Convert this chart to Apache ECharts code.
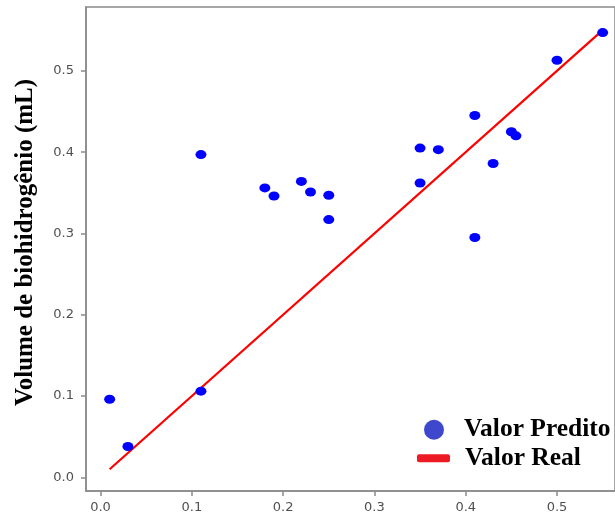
<!DOCTYPE html>
<html>
<head>
<meta charset="utf-8">
<script src="https://cdn.jsdelivr.net/npm/echarts@6/dist/echarts.min.js"></script>
<style>html,body{margin:0;padding:0;background:#fff}#c{width:615px;height:515px}</style>
</head>
<body>
<div id="c"></div>
<script>
// Real (x) and predicted (y) values
var realValues = [0.01, 0.03, 0.11, 0.11, 0.18, 0.19, 0.22, 0.23, 0.25, 0.25, 0.35, 0.37, 0.35, 0.41, 0.41, 0.43, 0.45, 0.455, 0.50, 0.55];
var predictedValues = [0.096, 0.038, 0.106, 0.397, 0.356, 0.346, 0.364, 0.351, 0.347, 0.317, 0.405, 0.403, 0.362, 0.445, 0.295, 0.386, 0.425, 0.420, 0.513, 0.547];
var xTicks = [0.0, 0.1, 0.2, 0.3, 0.4, 0.5];
var yTicks = [0.0, 0.1, 0.2, 0.3, 0.4, 0.5];
var seriesNames = ['Valor Predito', 'Valor Real'];
var yAxisTitle = 'Volume de biohidrogênio (mL)';

var scatterData = realValues.map(function (v, i) { return [v, predictedValues[i]]; });
var sortedReal = realValues.slice().sort(function (a, b) { return a - b; });
var lineData = [[sortedReal[0], sortedReal[0]], [sortedReal[sortedReal.length - 1], sortedReal[sortedReal.length - 1]]];

var axisColor = '#8a8a8a';
var labelStyle = { color: '#505050', fontFamily: 'DejaVu Sans', fontSize: 13 };
var legendText = { fontFamily: 'Liberation Serif', fontWeight: 'bold', fontSize: 25.5, color: '#000' };

var chart = echarts.init(document.getElementById('c'), null, { renderer: 'canvas' });
chart.setOption({
  animation: false,
  backgroundColor: '#fff',
  grid: { left: 86, top: 7, bottom: 24, right: 0, show: true, borderColor: axisColor, borderWidth: 1.5, backgroundColor: 'transparent' },
  xAxis: {
    type: 'value', min: -0.0159, max: 0.5635,
    axisLine: { show: true, onZero: false, lineStyle: { color: axisColor, width: 1.5 } },
    axisTick: { show: true, inside: false, length: 5, lineStyle: { color: axisColor, width: 1.5 }, customValues: xTicks },
    axisLabel: { margin: 10, customValues: xTicks, formatter: function (v) { return v.toFixed(1); }, color: labelStyle.color, fontFamily: labelStyle.fontFamily, fontSize: labelStyle.fontSize },
    splitLine: { show: false }
  },
  yAxis: {
    type: 'value', min: -0.0168, max: 0.5785,
    name: yAxisTitle, nameLocation: 'middle', nameRotate: 90, nameGap: 48,
    nameTextStyle: { fontFamily: 'Liberation Serif', fontWeight: 'bold', fontSize: 25, color: '#000', padding: [0, 0, 0, 13] },
    axisLine: { show: true, onZero: false, lineStyle: { color: axisColor, width: 1.5 } },
    axisTick: { show: true, inside: false, length: 5, lineStyle: { color: axisColor, width: 1.5 }, customValues: yTicks },
    axisLabel: { margin: 12, customValues: yTicks, formatter: function (v) { return v.toFixed(1); }, color: labelStyle.color, fontFamily: labelStyle.fontFamily, fontSize: labelStyle.fontSize },
    splitLine: { show: false }
  },
  legend: [
    {
      selectedMode: false, orient: 'vertical', left: 424, top: 416.75, padding: 0,
      itemWidth: 22, itemHeight: 20,
      data: [{ name: seriesNames[0], icon: 'circle', itemStyle: { color: '#3f48cc' } }],
      textStyle: Object.assign({ padding: [0, 0, 8, 14] }, legendText)
    },
    {
      selectedMode: false, orient: 'vertical', left: 417, top: 445.25, padding: 0,
      itemWidth: 33, itemHeight: 8,
      data: [{ name: seriesNames[1], icon: 'roundRect', itemStyle: { color: '#ed1c24' } }],
      textStyle: Object.assign({ padding: [0, 0, 8, 10] }, legendText)
    }
  ],
  series: [
    {
      name: seriesNames[1], type: 'line', data: lineData, showSymbol: false, symbol: 'none', z: 2,
      lineStyle: { color: '#ff0000', width: 2.2 }, itemStyle: { color: '#ff0000' }
    },
    {
      name: seriesNames[0], type: 'scatter', data: scatterData, symbol: 'circle', symbolSize: [11, 9], z: 3,
      itemStyle: { color: '#0000ff', opacity: 1 }
    }
  ]
});
</script>
</body>
</html>
